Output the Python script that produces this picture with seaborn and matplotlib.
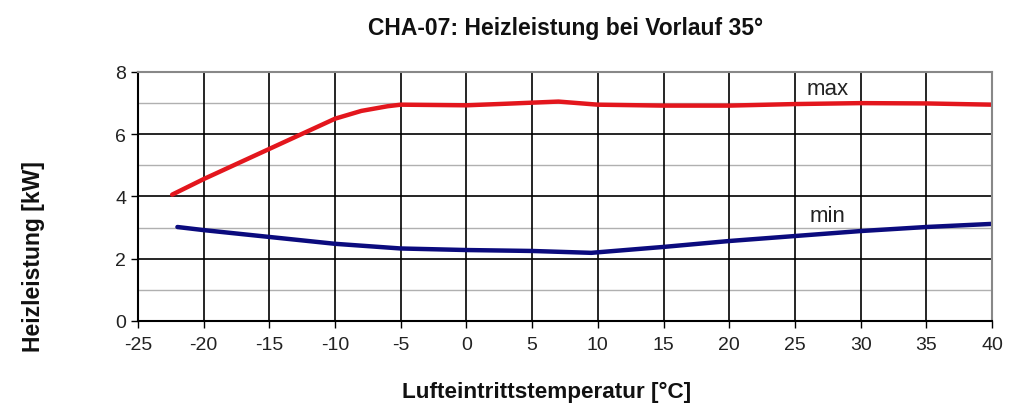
import matplotlib
matplotlib.use("Agg")
import matplotlib.pyplot as plt
import seaborn as sns
import pandas as pd

# Data
max_temp = [-22.4, -20, -15, -10, -8, -6, -5, 0, 3, 7, 10, 15, 20, 25, 30, 35, 40]
max_power = [4.06, 4.56, 5.53, 6.50, 6.75, 6.90, 6.95, 6.93, 6.98, 7.05, 6.95, 6.92, 6.92, 6.97, 7.0, 6.99, 6.95]
min_temp = [-22, -20, -15, -10, -5, 0, 5, 9.5, 15, 20, 25, 30, 35, 40]
min_power = [3.02, 2.92, 2.70, 2.48, 2.33, 2.28, 2.25, 2.19, 2.38, 2.57, 2.73, 2.89, 3.02, 3.12]
x_ticks = [-25, -20, -15, -10, -5, 0, 5, 10, 15, 20, 25, 30, 35, 40]
y_ticks = [0, 2, 4, 6, 8]

df = pd.concat([
    pd.DataFrame({"t": max_temp, "p": max_power, "s": "max"}),
    pd.DataFrame({"t": min_temp, "p": min_power, "s": "min"}),
])

sns.set_style("white")
plt.rcParams["font.family"] = ["Liberation Sans", "DejaVu Sans"]
plt.rcParams["axes.unicode_minus"] = False

fig = plt.figure(figsize=(10.23, 4.06), dpi=100)
ax = fig.add_axes([0.1349, 0.2069, 0.9697 - 0.1349, 0.8202 - 0.2069])

# grid
for yv in [1, 3, 5, 7]:
    ax.axhline(yv, color="#b0b0b0", lw=1.0, zorder=0)
for yv in [2, 4, 6]:
    ax.axhline(yv, color="black", lw=1.2, zorder=0)
for xv in x_ticks[1:-1]:
    ax.axvline(xv, color="black", lw=1.2, zorder=0)

sns.lineplot(data=df, x="t", y="p", hue="s", palette={"max": "#e3161d", "min": "#0b0b7e"},
             linewidth=3.2, legend=False, ax=ax, sort=False, estimator=None)

ax.set_xlim(-25, 40)
ax.set_ylim(0, 8)
ax.set_xticks(x_ticks)
ax.set_yticks(y_ticks)
ax.tick_params(axis="both", labelsize=14, length=5, width=1.0, color="black", direction="out",
               bottom=True, left=True, labelcolor="#222222")
ax.tick_params(axis="x", pad=6)
for side in ["top", "right"]:
    ax.spines[side].set_color("#888888")
    ax.spines[side].set_linewidth(1.5)
for side in ["left", "bottom"]:
    ax.spines[side].set_color("black")
    ax.spines[side].set_linewidth(1.5)

ax.text(27.5, 7.46, "max", fontsize=16, color="#222222", ha="center", va="center")
ax.text(27.5, 3.40, "min", fontsize=16, color="#222222", ha="center", va="center")

ax.set_xlabel("")
ax.set_ylabel("")
fig.text(0.553, 0.931, "CHA-07: Heizleistung bei Vorlauf 35°", fontsize=16.5, fontweight="bold",
         ha="center", va="center", color="#111111")
fig.text(0.534, 0.034, "Lufteintrittstemperatur [°C]", fontsize=16.2, fontweight="bold",
         ha="center", va="center", color="#111111")
fig.text(0.033, 0.367, "Heizleistung [kW]", fontsize=16.5, fontweight="bold", rotation=90,
         ha="center", va="center", color="#111111")

fig.savefig("out.png", dpi=100)
